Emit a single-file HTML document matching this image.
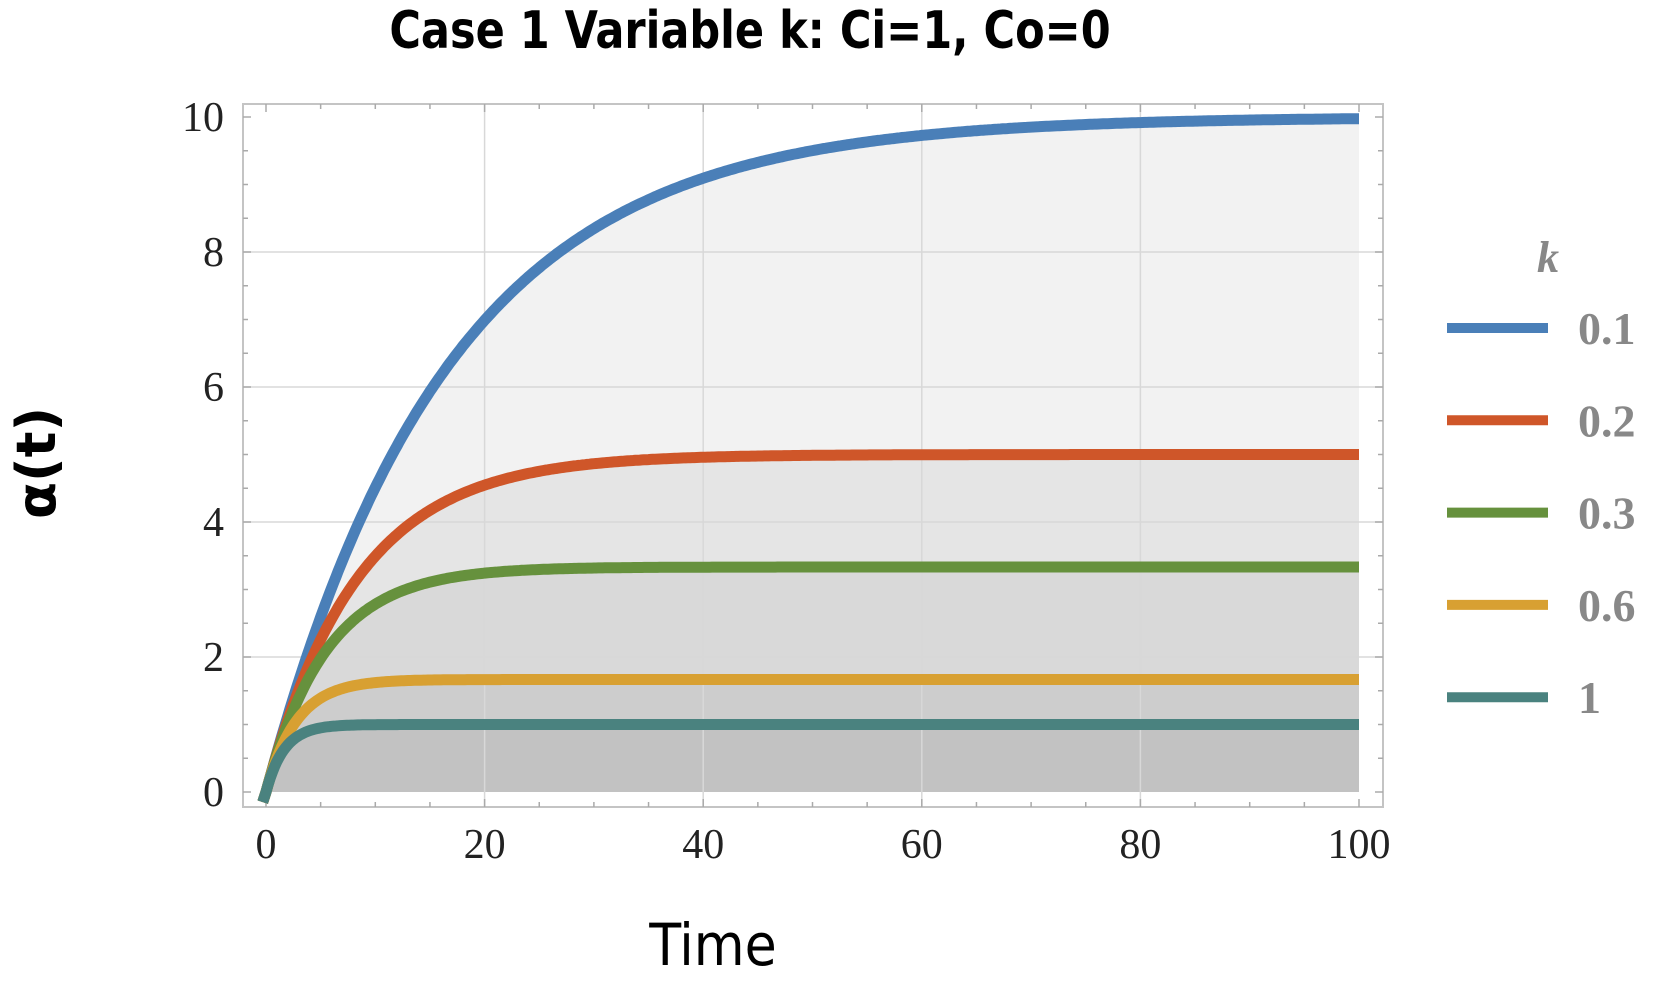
<!DOCTYPE html>
<html><head><meta charset="utf-8"><style>
body{margin:0;background:#fff;}
svg{display:block}
.tk{font-family:"Liberation Serif",serif;font-size:42px;fill:#222}
.lg{font-family:"Liberation Serif",serif;font-size:46px;fill:#888;font-weight:bold}
</style></head><body>
<svg id="s" width="1660" height="987" viewBox="0 0 1660 987" xmlns="http://www.w3.org/2000/svg">
<text x="750" y="48" text-anchor="middle" font-family="'DejaVu Sans Condensed','DejaVu Sans',sans-serif" font-weight="bold" font-size="52" transform="translate(750 0) scale(0.92 1) translate(-750 0)">Case 1 Variable k: Ci=1, Co=0</text>
<g id="fills"></g>
<g id="grid" stroke="#d8d8d8" stroke-width="1.5"></g>
<rect x="243" y="104" width="1140" height="703" fill="none" stroke="#c4c4c4" stroke-width="2"/>
<g id="ticks" stroke="#aaa" stroke-width="1.5"></g>
<g id="lines" fill="none" stroke-width="11" stroke-linecap="butt"></g>
<g id="labels"></g>
<text x="55" y="463" text-anchor="middle" font-family="'DejaVu Sans',sans-serif" font-weight="bold" font-size="54" transform="rotate(-90 55 463)">α(t)</text>
<text x="713" y="965" text-anchor="middle" font-family="'DejaVu Sans Condensed','DejaVu Sans',sans-serif" font-size="58">Time</text>
<text x="1548" y="272" text-anchor="middle" font-family="'Liberation Serif',serif" font-style="italic" font-weight="bold" font-size="44" fill="#888">k</text>
<g id="legend"></g>
</svg>
<script>
const NS="http://www.w3.org/2000/svg";
const X=t=>266+t*10.93, Y=v=>792-67.5*v;
function el(p,tag,a,txt){const e=document.createElementNS(NS,tag);for(const k in a)e.setAttribute(k,a[k]);if(txt!=null)e.textContent=txt;document.getElementById(p).appendChild(e);return e;}
for(let t=20;t<=80;t+=20) el("grid","line",{x1:X(t),x2:X(t),y1:104,y2:807});
for(let v=2;v<=8;v+=2) el("grid","line",{x1:243,x2:1383,y1:Y(v),y2:Y(v)});
for(let t=0;t<=100;t+=5){const L=t%20==0?8:5;el("ticks","line",{x1:X(t),x2:X(t),y1:807,y2:807-L});el("ticks","line",{x1:X(t),x2:X(t),y1:104,y2:104+L});}
for(let v=0;v<=10;v+=0.5){const L=v%2==0?8:5;el("ticks","line",{x1:243,x2:243+L,y1:Y(v),y2:Y(v)});el("ticks","line",{x1:1383,x2:1383-L,y1:Y(v),y2:Y(v)});}
for(let t=0;t<=100;t+=20) el("labels","text",{x:X(t),y:858,"text-anchor":"middle",class:"tk"},String(t));
for(let v=0;v<=10;v+=2) el("labels","text",{x:224,y:Y(v)+14,"text-anchor":"end",class:"tk"},String(v));
const ks=[0.1,0.2,0.3,0.6,1],cols=["#4a7fb8","#cf5629","#66913d","#d8a032","#4a827f"],names=["0.1","0.2","0.3","0.6","1"];
ks.forEach((k,i)=>{let d="";for(let j=0;j<=500;j++){const t=j/5;const v=(1-Math.exp(-0.6*k*t))/k;d+=(j?"L":"M")+X(t).toFixed(1)+" "+Y(v).toFixed(1);}
el("fills","path",{d:d+"L"+X(100)+" "+Y(0)+"Z",fill:"rgba(0,0,0,0.05)"});
el("lines","path",{d:"M"+X(-0.3)+" "+Y(-0.15)+d.replace(/^M/,"L"),stroke:cols[i]});
const ly=328+i*92.3;el("legend","line",{x1:1447,x2:1548,y1:ly,y2:ly,stroke:cols[i],"stroke-width":10});
el("legend","text",{x:1578,y:ly+16,class:"lg"},names[i]);});
</script>
</body></html>
